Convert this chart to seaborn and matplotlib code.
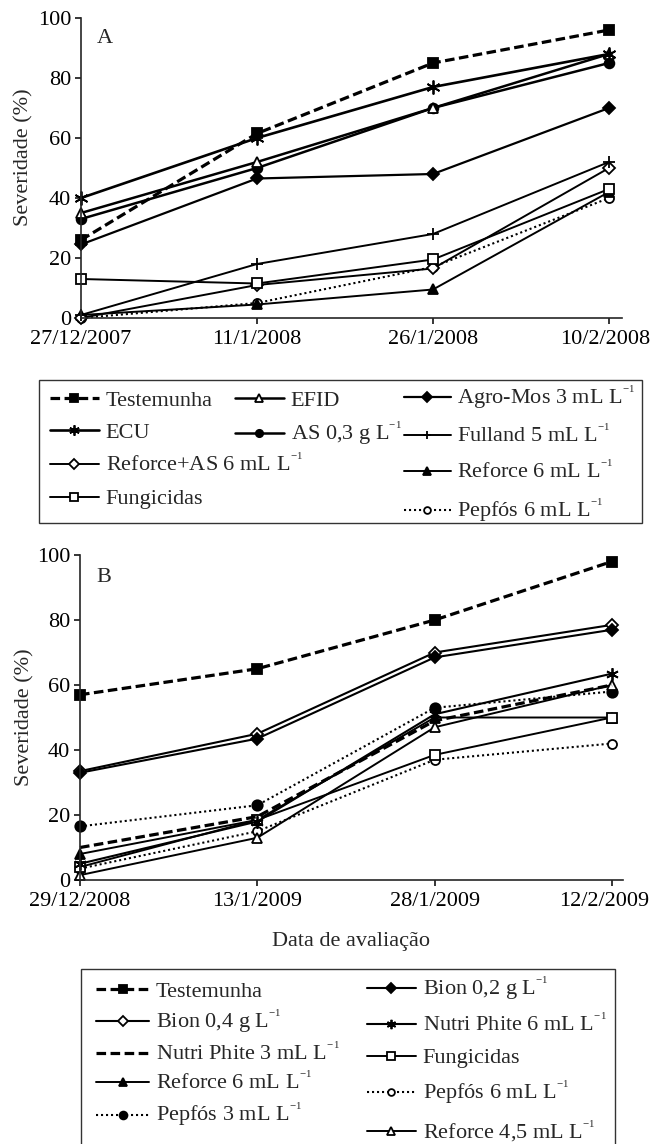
import pandas as pd
import seaborn as sns
import matplotlib.pyplot as plt
import matplotlib.transforms as mtransforms
from matplotlib.patches import Rectangle

# ---- data (severity %) ----
dates_a = ["27/12/2007", "11/1/2008", "26/1/2008", "10/2/2008"]
dates_b = ["29/12/2008", "13/1/2009", "28/1/2009", "12/2/2009"]

testemunha_a = [26, 61.5, 85, 96]
efid_a = [35, 52, 70, 88]
agromos_a = [24.5, 46.5, 48, 70]
ecu_a = [40, 60, 77, 88]
as_a = [33, 50, 70, 85]
fulland_a = [1, 18, 28, 52]
reforce_as_a = [0, 11, 16.5, 50]
reforce6_a = [1, 4.5, 9.5, 42]
fungicidas_a = [13, 11.5, 19.5, 43]
pepfos6_a = [0, 5, 17, 40]

testemunha_b = [57, 65, 80, 98]
bion02_b = [33, 43.5, 68.5, 77]
bion04_b = [33.5, 45, 70, 78.5]
nutri6_b = [5, 18, 51, 63.5]
nutri3_b = [10, 19.5, 49, 60]
reforce6_b = [8, 18.5, 50, 50]
fungicidas_b = [4, 18.5, 38.5, 50]
pepfos6_b = [3.5, 15, 37, 42]
pepfos3_b = [16.5, 23, 53, 58]
reforce45_b = [1.5, 13, 47, 60]

L1 = " L$^{{}^{-1}}$"

sns.set_style("ticks")
plt.rcParams["font.family"] = ["Liberation Serif", "DejaVu Serif"]
plt.rcParams["mathtext.fontset"] = "custom"
plt.rcParams["mathtext.rm"] = "Liberation Serif"
plt.rcParams["mathtext.it"] = "Liberation Serif:italic"
plt.rcParams["mathtext.default"] = "rm"

FS = 16
DASH = (0, (3, 1.4))
DOT = (0, (1, 1.4))
AST = (6, 2, 0)

fig = plt.figure(figsize=(6.52, 11.44), dpi=100)
axA = fig.add_axes([81 / 652, 1 - 318 / 1144, 541 / 652, 300 / 1144])
axB = fig.add_axes([80 / 652, 1 - 880 / 1144, 543 / 652, 325 / 1144])


def draw(ax, vals, label, marker, filled, ls="-", lw=1.3, ms=7):
    sns.lineplot(x=list(range(len(vals))), y=vals, ax=ax, color="k",
                 marker=marker, markersize=ms,
                 markerfacecolor="k" if filled else "white",
                 markeredgecolor="k", markeredgewidth=1.3,
                 linestyle=ls, linewidth=lw, label=label,
                 legend=False, clip_on=False)


# panel A
draw(axA, pepfos6_a, "Pepfós 6 mL" + L1, "o", False, DOT, 1.5, 6.5)
draw(axA, reforce6_a, "Reforce 6 mL" + L1, "^", True, "-", 1.4, 7)
draw(axA, reforce_as_a, "Reforce+AS 6 mL" + L1, "D", False, "-", 1.4, 6.5)
draw(axA, fungicidas_a, "Fungicidas", "s", False, "-", 1.4, 7)
draw(axA, fulland_a, "Fulland 5 mL" + L1, "+", False, "-", 1.4, 8)
draw(axA, agromos_a, "Agro-Mos 3 mL" + L1, "D", True, "-", 1.6, 6.5)
draw(axA, as_a, "AS 0,3 g" + L1, "o", True, "-", 1.8, 7)
draw(axA, efid_a, "EFID", "^", False, "-", 1.8, 7)
draw(axA, ecu_a, "ECU", AST, False, "-", 1.9, 10)
draw(axA, testemunha_a, "Testemunha", "s", True, DASH, 2.3, 7.5)

# panel B
draw(axB, pepfos6_b, "Pepfós 6 mL" + L1, "o", False, DOT, 1.5, 6.5)
draw(axB, pepfos3_b, "Pepfós 3 mL" + L1, "o", True, DOT, 1.5, 7.5)
draw(axB, reforce45_b, "Reforce 4,5 mL" + L1, "^", False, "-", 1.4, 7.5)
draw(axB, reforce6_b, "Reforce 6 mL" + L1, "^", True, "-", 1.4, 7)
draw(axB, fungicidas_b, "Fungicidas", "s", False, "-", 1.4, 7)
draw(axB, nutri3_b, "Nutri Phite 3 mL" + L1, "None", True, DASH, 2.3, 0)
draw(axB, nutri6_b, "Nutri Phite 6 mL" + L1, AST, False, "-", 1.5, 9)
draw(axB, bion04_b, "Bion 0,4 g" + L1, "D", False, "-", 1.5, 6.5)
draw(axB, bion02_b, "Bion 0,2 g" + L1, "D", True, "-", 1.5, 6.5)
draw(axB, testemunha_b, "Testemunha", "s", True, DASH, 2.3, 7.5)

for ax, dates, xmax, letter in [(axA, dates_a, 3.074, "A"), (axB, dates_b, 3.062, "B")]:
    ax.set_xlim(0, xmax)
    ax.set_ylim(0, 100)
    ax.set_xticks(range(4))
    ax.set_xticklabels(dates)
    ax.set_yticks(range(0, 101, 20))
    ax.tick_params(axis="both", direction="out", length=4, width=1.1,
                   labelsize=FS, colors="k")
    ax.tick_params(axis="x", pad=5)
    ax.tick_params(axis="y", pad=3)
    sns.despine(ax=ax)
    for s in ["left", "bottom"]:
        ax.spines[s].set_linewidth(1.2)
    ax.set_ylabel("Severidade (%)", fontsize=FS, labelpad=2)
    ax.set_xlabel("")
    ax.text(0.03, 0.93, letter, transform=ax.transAxes, fontsize=FS,
            va="center", ha="left")

axA.yaxis.set_label_coords(-0.087, 0.537)

# keep the last dates inside the figure
for ax, dx in [(axA, -4), (axB, -8)]:
    lab = ax.get_xticklabels()[-1]
    lab.set_transform(lab.get_transform() +
                      mtransforms.ScaledTranslation(dx / 100, 0, fig.dpi_scale_trans))

axB.set_xlabel("Data de avaliação", fontsize=FS, labelpad=15)

# ---- legends ----
def col_legend(ax, labels, x, y, spacing, hl=2.2):
    h, l = ax.get_legend_handles_labels()
    lut = dict(zip(l, h))
    leg = fig.legend([lut[k] for k in labels], labels, loc="upper left",
                     bbox_to_anchor=(x / 652, 1 - y / 1144), frameon=False,
                     borderpad=0, borderaxespad=0, fontsize=FS,
                     handlelength=hl, handletextpad=0.3,
                     labelspacing=spacing, markerscale=0.75)
    return leg


col_legend(axA, ["Testemunha", "ECU", "Reforce+AS 6 mL" + L1, "Fungicidas"],
           50, 390, 0.52)
col_legend(axA, ["EFID", "AS 0,3 g" + L1], 235, 390, 0.42)
col_legend(axA, ["Agro-Mos 3 mL" + L1, "Fulland 5 mL" + L1,
                 "Reforce 6 mL" + L1, "Pepfós 6 mL" + L1], 404, 384, 0.58, 2.1)
fig.patches.append(Rectangle((39 / 652, 1 - 523 / 1144), 603 / 652, 143 / 1144,
                             transform=fig.transFigure, fill=False,
                             edgecolor="#333333", linewidth=1.0))

col_legend(axB, ["Testemunha", "Bion 0,4 g" + L1, "Nutri Phite 3 mL" + L1,
                 "Reforce 6 mL" + L1, "Pepfós 3 mL" + L1], 96, 981, 0.29, 2.4)
col_legend(axB, ["Bion 0,2 g" + L1, "Nutri Phite 6 mL" + L1, "Fungicidas",
                 "Pepfós 6 mL" + L1, "Reforce 4,5 mL" + L1], 367, 975, 0.49)
fig.patches.append(Rectangle((81 / 652, 1 - 1170 / 1144), 534 / 652, 201 / 1144,
                             transform=fig.transFigure, fill=False,
                             edgecolor="#333333", linewidth=1.0, clip_on=False))

fig.savefig("out.png", dpi=100)
